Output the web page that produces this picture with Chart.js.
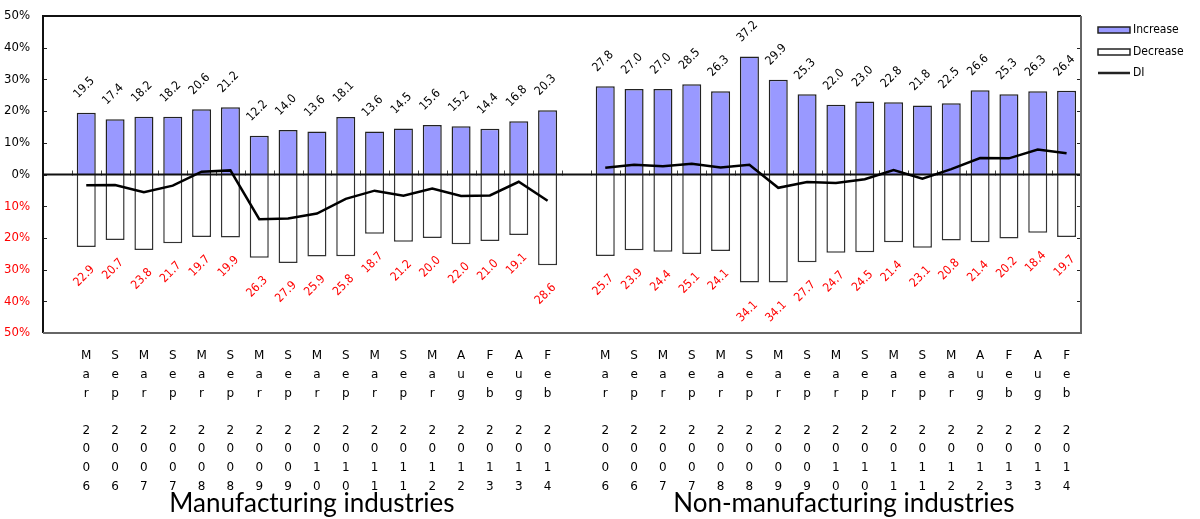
<!DOCTYPE html>
<html>
<head>
<meta charset="utf-8">
<script src="https://cdn.jsdelivr.net/npm/chart.js@4.4.1/dist/chart.umd.min.js"></script>
<style>
  html, body { margin: 0; padding: 0; background: #fff; }
  #wrap { width: 1200px; height: 519px; position: relative; }
</style>
</head>
<body>
<div id="wrap"><canvas id="c" width="1200" height="519"></canvas></div>
<script>
// Survey periods (same for both industry groups)
const periods = ['Mar 2006','Sep 2006','Mar 2007','Sep 2007','Mar 2008','Sep 2008','Mar 2009','Sep 2009',
  'Mar 2010','Sep 2010','Mar 2011','Sep 2011','Mar 2012','Aug 2012','Feb 2013','Aug 2013','Feb 2014'];

// Manufacturing industries (% of respondents)
const mfgIncrease = [19.5,17.4,18.2,18.2,20.6,21.2,12.2,14.0,13.6,18.1,13.6,14.5,15.6,15.2,14.4,16.8,20.3];
const mfgDecrease = [22.9,20.7,23.8,21.7,19.7,19.9,26.3,27.9,25.9,25.8,18.7,21.2,20.0,22.0,21.0,19.1,28.6];
const mfgDI       = [-3.4,-3.3,-5.6,-3.5,0.9,1.3,-14.1,-13.9,-12.3,-7.7,-5.1,-6.7,-4.4,-6.8,-6.6,-2.3,-8.3];

// Non-manufacturing industries (% of respondents)
const nonIncrease = [27.8,27.0,27.0,28.5,26.3,37.2,29.9,25.3,22.0,23.0,22.8,21.8,22.5,26.6,25.3,26.3,26.4];
const nonDecrease = [25.7,23.9,24.4,25.1,24.1,34.1,34.1,27.7,24.7,24.5,21.4,23.1,20.8,21.4,20.2,18.4,19.7];
const nonDI       = [2.1,3.1,2.6,3.4,2.2,3.1,-4.2,-2.4,-2.7,-1.5,1.4,-1.3,1.7,5.2,5.1,7.9,6.7];

const groupTitles = ['Manufacturing industries', 'Non-manufacturing industries'];
const yTicks = [-50,-40,-30,-20,-10,0,10,20,30,40,50];

// One empty slot before each group
const join = (a, b) => [null, ...a, null, ...b];
const vertical = p => { const [m, y] = p.split(' '); return [...m.split(''), '', ...y.split('')]; };
const labels = ['', ...periods.map(vertical), '', ...periods.map(vertical)];

const incData = join(mfgIncrease, nonIncrease);
const decData = join(mfgDecrease, nonDecrease).map(v => v === null ? null : -v);
const diData  = join(mfgDI, nonDI);

const NARROW = '"Liberation Sans Narrow", "DejaVu Sans Condensed", "Liberation Sans", Arial, sans-serif';

const decor = {
  id: 'decor',
  // zero line and category boundary ticks, drawn between the bars and the DI line
  beforeDatasetDraw(chart, args) {
    if (args.index !== 2) return;
    const { ctx, chartArea: a, scales: { x, y } } = chart;
    const y0 = y.getPixelForValue(0);
    ctx.save();
    ctx.strokeStyle = '#444';
    ctx.lineWidth = 1;
    const n = labels.length;
    for (let i = 0; i < n; i++) {
      const bx = i < n - 1 ? (x.getPixelForValue(i) + x.getPixelForValue(i + 1)) / 2 : a.right;
      ctx.beginPath();
      ctx.moveTo(Math.round(bx) + 0.5, y0 - 4);
      ctx.lineTo(Math.round(bx) + 0.5, y0 + 1);
      ctx.stroke();
    }
    ctx.strokeStyle = '#111';
    ctx.lineWidth = 2;
    ctx.beginPath();
    ctx.moveTo(a.left, y0);
    ctx.lineTo(a.right, y0);
    ctx.stroke();
    ctx.restore();
  },
  // rotated value labels: increase above the bar, decrease below it
  afterDatasetsDraw(chart) {
    const { ctx } = chart;
    ctx.save();
    ctx.font = '12px ' + NARROW;
    ctx.textAlign = 'center';
    ctx.textBaseline = 'middle';
    const draw = (meta, data, color, above) => {
      meta.data.forEach((bar, i) => {
        const v = data[i];
        if (v === null || v === undefined) return;
        const cx = bar.x - 2;
        const cy = above ? bar.y - 25 : bar.y + 29;
        ctx.save();
        ctx.translate(cx, cy);
        ctx.rotate(-Math.PI / 4);
        ctx.fillStyle = color;
        ctx.fillText(Math.abs(v).toFixed(1), 0, 0);
        ctx.restore();
      });
    };
    draw(chart.getDatasetMeta(0), incData, '#000', true);
    draw(chart.getDatasetMeta(1), decData, '#ff0000', false);
    ctx.restore();
  },
  afterDraw(chart) {
    const { ctx, chartArea: a, scales: { x, y } } = chart;
    ctx.save();
    // y-axis tick marks on both sides of the frame
    ctx.strokeStyle = '#222';
    ctx.lineWidth = 1;
    yTicks.forEach(t => {
      const py = Math.round(y.getPixelForValue(t)) + 0.5;
      ctx.beginPath(); ctx.moveTo(a.left, py); ctx.lineTo(a.left + 4, py); ctx.stroke();
      ctx.beginPath(); ctx.moveTo(a.right - 4, py); ctx.lineTo(a.right, py); ctx.stroke();
    });
    // plot frame
    ctx.lineWidth = 2;
    ctx.strokeStyle = '#111';
    ctx.beginPath(); ctx.moveTo(a.left, a.bottom); ctx.lineTo(a.left, a.top); ctx.lineTo(a.right, a.top); ctx.stroke();
    ctx.strokeStyle = '#666';
    ctx.beginPath(); ctx.moveTo(a.right, a.top); ctx.lineTo(a.right, a.bottom); ctx.lineTo(a.left, a.bottom); ctx.stroke();

    // legend
    const lx = a.right + 17, tx = lx + 35;
    ctx.font = '12px ' + NARROW;
    ctx.textAlign = 'left';
    ctx.textBaseline = 'middle';
    ctx.fillStyle = '#9999ff';
    ctx.fillRect(lx, a.top + 11, 32, 6);
    ctx.lineWidth = 1.5;
    ctx.strokeStyle = '#222';
    ctx.strokeRect(lx, a.top + 11, 32, 6);
    ctx.fillStyle = '#000';
    ctx.fillText('Increase', tx, a.top + 14);
    ctx.fillStyle = '#fff';
    ctx.fillRect(lx, a.top + 33, 32, 6);
    ctx.strokeRect(lx, a.top + 33, 32, 6);
    ctx.fillStyle = '#000';
    ctx.fillText('Decrease', tx, a.top + 36);
    ctx.lineWidth = 2.5;
    ctx.beginPath(); ctx.moveTo(lx, a.top + 57); ctx.lineTo(lx + 32, a.top + 57); ctx.stroke();
    ctx.fillText('DI', tx, a.top + 57);

    // group titles under the period labels
    ctx.font = '26px Lato, "Open Sans", sans-serif';
    ctx.textAlign = 'center';
    ctx.textBaseline = 'alphabetic';
    ctx.fillStyle = '#000';
    const g1 = (x.getPixelForValue(1) + x.getPixelForValue(17)) / 2 - 5;
    const g2 = (x.getPixelForValue(19) + x.getPixelForValue(35)) / 2 + 8;
    ctx.fillText(groupTitles[0], g1, 512);
    ctx.fillText(groupTitles[1], g2, 512);
    ctx.restore();
  }
};

new Chart(document.getElementById('c'), {
  data: {
    labels,
    datasets: [
      { type: 'bar', label: 'Increase', data: incData, stack: 's', order: 1,
        backgroundColor: '#9999ff', borderColor: '#222', borderWidth: 1.5,
        categoryPercentage: 1, barPercentage: 0.66 },
      { type: 'bar', label: 'Decrease', data: decData, stack: 's', order: 1,
        backgroundColor: '#ffffff', borderColor: '#333', borderWidth: 1.5,
        categoryPercentage: 1, barPercentage: 0.66 },
      { type: 'line', label: 'DI', data: diData, stack: 'di', order: 0,
        borderColor: '#000', borderWidth: 2.5, pointRadius: 0, tension: 0,
        spanGaps: false, fill: false }
    ]
  },
  options: {
    responsive: false,
    animation: false,
    devicePixelRatio: 1,
    layout: { padding: { top: 16, right: 119, left: 0, bottom: 0 } },
    plugins: { legend: { display: false }, tooltip: { enabled: false } },
    scales: {
      x: {
        stacked: true,
        grid: { display: false },
        border: { display: false },
        ticks: {
          autoSkip: false, maxRotation: 0, minRotation: 0, padding: 6,
          color: '#000',
          font: { family: '"DejaVu Sans", Arial, sans-serif', size: 12, lineHeight: 1.55 }
        },
        afterFit(s) { s.height = 186; s.paddingLeft = 0; s.paddingRight = 0; }
      },
      y: {
        stacked: true,
        min: -50, max: 50,
        afterBuildTicks(s) { s.ticks = yTicks.map(v => ({ value: v })); },
        grid: { display: false, drawTicks: false },
        border: { display: false },
        ticks: {
          padding: 13,
          font: { family: NARROW, size: 13 },
          color: c => c.tick.value < 0 ? '#ff0000' : '#000',
          callback: v => Math.abs(v) + '%'
        },
        afterFit(s) { s.width = 43; s.paddingTop = 0; s.paddingBottom = 0; }
      }
    }
  },
  plugins: [decor]
});
</script>
</body>
</html>
